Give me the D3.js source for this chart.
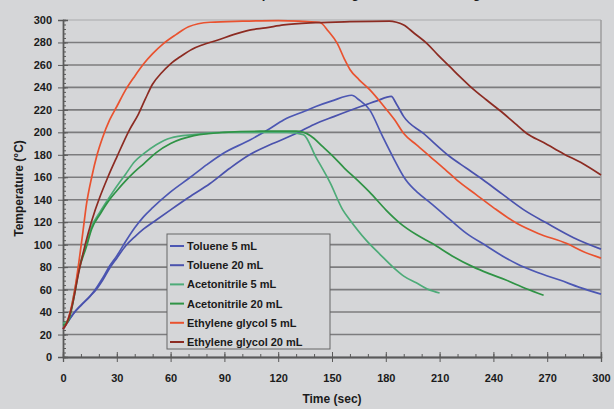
<html>
<head>
  <meta charset="utf-8">
  <title>Heating curves</title>
  <script src="https://cdnjs.cloudflare.com/ajax/libs/d3/7.8.5/d3.min.js"></script>
  <style>
    body { margin: 0; background: #d5d6d8; }
    text { font-family: Arial, "Liberation Sans", sans-serif; font-weight: bold; fill: #1b1b1b; }
  </style>
</head>
<body>
<svg></svg>
<script>
// time (sec) / temperature (deg C)
var tolu5T = [0,3,6,10,15,18,22,26,30,35,40,45,50,60,71,80,89,104,115,123,135,141,150,161,165,171,178,184,191,198,205,216,225,236,245,253,265,277,288,300];
var tolu5Y = [25,32,39,46,54,60,70,81,90,103,115,125,133,147,160,171,181,193,203,211,219,223,228,233,229,220,197,178,158,146,137,122,110,99,90,83,75,68.5,62,56];

var tolu20T = [0,3,6,10,15,18,22,26,30,35,40,45,52,60,70,82,93,104,117,130,140,151,166,175,183,186,190,201,216,225,234,245,257,270,285,300];
var tolu20Y = [25,32,39,46,54,59,68,79,88,99,107,114,122,131,142,154.5,168,180,190,199,207,214,223,228,232,225,214,199,178,168,158,145,131,119,106,96];

var acn5T = [0,3,6,9,13,16,21,25,30,35,40,45,52,60,73,90,110,125,134,141,149,156,160,169,177,184,190,197,204,210];
var acn5Y = [30,33,55,80,100,116,130,140,152,163,174,181,189,195,198,200,200,200,198,178,155,131,122,104,91,80,72,66,60,57];

var acn20T = [0,3,6,9,13,16,21,25,30,35,40,45,52,60,73,90,110,130,138,145,151,157,164,172,180,188,197,206,217,229,238,247,258,268];
var acn20Y = [28,32,52,78,98,114,128,138,148,157,165,172,182,190,197,200,201,201,197,187,178,168,157.6,145,131,119,109,101,90,80,74,68.5,61,55];

var eg5T = [0,2,4,7,9.5,11,13,16,19,22,26,30,35,40,45,50,56,63,70,82,100,120,143,148,153,157,160,165,171,179,185,190,197,205,213,220,230,240,253,265,281,290,300];
var eg5Y = [25,30,40,64,92,110,135,160,180,195,211,223,238,250,261,270,279,287,294,298,299,299.5,298,290,279,265,256,247,238,223,211,199,189,178,167,157,145,133,119,110,101,94,88];

var eg20T = [0,2,5,8.6,14,18,20,25,30,37,42,46,50,55,60,66,72,78,86,95,104,113,123,141,160,182,186,190,196,203,209,216,221,227,236,245.5,252,258.6,268,279,290,300];
var eg20Y = [25,30,45,74,110,131,140,160,178,202,216,230,243,253,261,268,274,278,282,287,291,293,295.6,297.6,298.5,299,298,295.6,288,279,269,258,250,241,229,217,208,199,191,181,172,162];

var seriesNames = ["Toluene 5 mL","Toluene 20 mL","Acetonitrile 5 mL","Acetonitrile 20 mL","Ethylene glycol 5 mL","Ethylene glycol 20 mL"];
var seriesColors = ["#4c57b3","#4a52ad","#4dab78","#2f9345","#e9522f","#8c2b22"];
var seriesT = [tolu5T, tolu20T, acn5T, acn20T, eg5T, eg20T];
var seriesY = [tolu5Y, tolu20Y, acn5Y, acn20Y, eg5Y, eg20Y];

var xTicks = [0,30,60,90,120,150,180,210,240,270,300];
var yTicks = [0,20,40,60,80,100,120,140,160,180,200,220,240,260,280,300];

var w = 614, h = 409;
var svg = d3.select("svg").attr("width", w).attr("height", h);

var margin = {left: 63, right: 13, top: 20, bottom: 52};

var x = d3.scaleLinear().domain([0,300]).range([margin.left, w - margin.right]);
var y = d3.scaleLinear().domain([0,300]).range([h - margin.bottom, margin.top]);

// title, cut by the top edge like in the original
svg.append("text")
  .attr("x", 333).attr("y", -2)
  .attr("text-anchor", "middle")
  .style("font-size", "13px")
  .text("Solvent Temperature During Microwave Heating");

// gridlines
svg.append("g").selectAll("line")
  .data(yTicks.filter(function(d) { return d > 0; }))
  .enter().append("line")
  .attr("x1", x(0)).attr("x2", x(300))
  .attr("y1", function(d) { return y(d); })
  .attr("y2", function(d) { return y(d); })
  .attr("stroke", function(d) { return d == 300 ? "#a9aaac" : "#7c7c7e"; })
  .attr("stroke-width", function(d) { return d == 300 ? 1.2 : 1.6; });

// right border
svg.append("line")
  .attr("x1", x(300)).attr("x2", x(300))
  .attr("y1", y(300)).attr("y2", y(0))
  .attr("stroke", "#9c9c9e").attr("stroke-width", 1.5);

// axes
var xAxis = d3.axisBottom(x).tickValues(xTicks).tickSize(5).tickPadding(12);
svg.append("g").attr("transform", "translate(0," + y(0) + ")").call(xAxis);
var xMinor = d3.axisTop(x).tickValues(d3.range(0, 301, 10)).tickSize(3).tickFormat("");
svg.append("g").attr("transform", "translate(0," + y(0) + ")").call(xMinor);
var xMajorUp = d3.axisTop(x).tickValues(xTicks).tickSize(5).tickFormat("");
svg.append("g").attr("transform", "translate(0," + y(0) + ")").call(xMajorUp);

var yAxis = d3.axisLeft(y).tickValues(yTicks).tickSize(5).tickPadding(6);
svg.append("g").attr("transform", "translate(" + x(0) + ",0)").call(yAxis);
var yMinor = d3.axisRight(y).tickValues(d3.range(0, 301, 4)).tickSize(3).tickFormat("");
svg.append("g").attr("transform", "translate(" + x(0) + ",0)").call(yMinor);
var yMajorIn = d3.axisRight(y).tickValues(yTicks).tickSize(5).tickFormat("");
svg.append("g").attr("transform", "translate(" + x(0) + ",0)").call(yMajorIn);

svg.selectAll(".domain").attr("stroke", "#5a5a5a").attr("stroke-width", 1.3);
svg.selectAll(".tick line").attr("stroke", "#5a5a5a");
svg.selectAll(".tick text").style("font-size", "11px").style("font-family", "Arial, 'Liberation Sans', sans-serif").style("font-weight", "bold").attr("fill", "#1b1b1b");

// axis titles
svg.append("text")
  .attr("x", x(150)).attr("y", 403)
  .attr("text-anchor", "middle")
  .style("font-size", "12px")
  .text("Time (sec)");
svg.append("text")
  .attr("transform", "translate(23," + y(150) + ") rotate(-90)")
  .attr("text-anchor", "middle")
  .style("font-size", "12px")
  .text("Temperature (°C)");

// curves
var line = d3.line()
  .x(function(d) { return x(d[0]); })
  .y(function(d) { return y(d[1]); })
  .curve(d3.curveMonotoneX);

for (var i=0; i<seriesNames.length; i++) {
  var pts = seriesT[i].map(function(t, j) { return [t, seriesY[i][j]]; });
  svg.append("path")
    .datum(pts)
    .attr("d", line)
    .attr("fill", "none")
    .attr("stroke", seriesColors[i])
    .attr("stroke-width", 1.7);
}

// legend
var lg = svg.append("g").attr("transform", "translate(167,234)");
lg.append("rect")
  .attr("width", 163).attr("height", 115)
  .attr("fill", "#d5d6d8")
  .attr("stroke", "#666").attr("stroke-width", 1);
var items = lg.selectAll("g.item").data(seriesNames).enter().append("g")
  .attr("transform", function(d,i) { return "translate(0," + (12 + i*19.2) + ")"; });
items.append("line")
  .attr("x1", 3).attr("x2", 17)
  .attr("stroke", function(d,i) { return seriesColors[i]; })
  .attr("stroke-width", 2);
items.append("text")
  .attr("x", 20).attr("y", 4)
  .style("font-size", "11px")
  .text(function(d) { return d; });
</script>
</body>
</html>
